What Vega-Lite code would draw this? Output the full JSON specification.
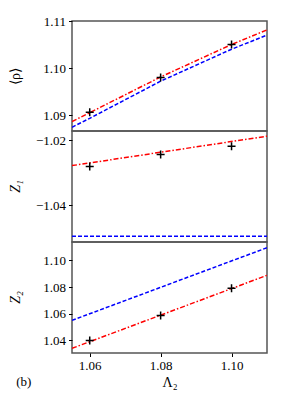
{
  "$schema": "https://vega.github.io/schema/vega-lite/v6.json",
  "padding": {"left": 7, "top": 14, "right": 5, "bottom": 5},
  "spacing": 0,
  "bounds": "flush",
  "background": "white",
  "title": {"text": "(b)", "orient": "bottom", "anchor": "start", "font": "Liberation Serif", "fontSize": 13, "fontWeight": "normal", "color": "black", "offset": -14, "dx": 9},
  "config": {
    "view": {"stroke": "#555555", "strokeWidth": 1.5},
    "axis": {"grid": false, "domain": false, "labelFont": "Liberation Serif", "labelFontSize": 13, "labelColor": "black", "tickColor": "black", "tickSize": 3.5, "tickWidth": 1, "titleFont": "Liberation Serif", "titleFontSize": 14, "titleFontWeight": "normal", "titleColor": "black", "labelPadding": 3, "labelOverlap": false}
  },
  "datasets": {
    "rho_lines": [
      {"L": 1.055, "v": 1.0886, "s": "red"}, {"L": 1.06, "v": 1.0905, "s": "red"}, {"L": 1.08, "v": 1.0981, "s": "red"}, {"L": 1.10, "v": 1.1050, "s": "red"}, {"L": 1.11, "v": 1.1081, "s": "red"},
      {"L": 1.055, "v": 1.0874, "s": "blue"}, {"L": 1.06, "v": 1.0893, "s": "blue"}, {"L": 1.08, "v": 1.0972, "s": "blue"}, {"L": 1.10, "v": 1.1040, "s": "blue"}, {"L": 1.11, "v": 1.1070, "s": "blue"}
    ],
    "rho_pts": [{"L": 1.06, "v": 1.0906}, {"L": 1.08, "v": 1.098}, {"L": 1.10, "v": 1.105}],
    "z1_lines": [
      {"L": 1.055, "v": -1.0278, "s": "red"}, {"L": 1.11, "v": -1.0187, "s": "red"},
      {"L": 1.055, "v": -1.0496, "s": "blue"}, {"L": 1.11, "v": -1.0496, "s": "blue"}
    ],
    "z1_pts": [{"L": 1.06, "v": -1.0281}, {"L": 1.08, "v": -1.0244}, {"L": 1.10, "v": -1.0218}],
    "z2_lines": [
      {"L": 1.055, "v": 1.034, "s": "red"}, {"L": 1.11, "v": 1.0888, "s": "red"},
      {"L": 1.055, "v": 1.055, "s": "blue"}, {"L": 1.11, "v": 1.1095, "s": "blue"}
    ],
    "z2_pts": [{"L": 1.06, "v": 1.0398}, {"L": 1.08, "v": 1.0587}, {"L": 1.10, "v": 1.079}]
  },
  "vconcat": [
    {
      "width": 195, "height": 110,
      "layer": [
        {"data": {"name": "rho_lines"}, "transform": [{"filter": "datum.s === 'blue'"}], "mark": {"type": "line", "color": "#0000ff", "strokeWidth": 1.5, "strokeDash": [4, 2], "clip": true},
         "encoding": {"x": {"field": "L", "type": "quantitative", "scale": {"domain": [1.055, 1.11], "nice": false, "zero": false}, "axis": null},
                      "y": {"field": "v", "type": "quantitative", "scale": {"domain": [1.0866, 1.11], "nice": false, "zero": false},
                            "axis": {"values": [1.09, 1.10, 1.11], "format": ".2f", "title": "⟨ρ⟩", "titleX": -50, "titleY": 55, "titleAngle": -90}}}},
        {"data": {"name": "rho_lines"}, "transform": [{"filter": "datum.s === 'red'"}], "mark": {"type": "line", "color": "#ff0000", "strokeWidth": 1.5, "strokeDash": [5, 2, 1.5, 2], "clip": true},
         "encoding": {"x": {"field": "L", "type": "quantitative"}, "y": {"field": "v", "type": "quantitative"}}},
        {"data": {"name": "rho_pts"}, "mark": {"type": "point", "shape": "M-1,0L1,0M0,-1L0,1", "filled": false, "color": "black", "strokeWidth": 1.5, "size": 64, "opacity": 1},
         "encoding": {"x": {"field": "L", "type": "quantitative"}, "y": {"field": "v", "type": "quantitative"}}}
      ]
    },
    {
      "width": 195, "height": 111,
      "layer": [
        {"data": {"name": "z1_lines"}, "transform": [{"filter": "datum.s === 'blue'"}], "mark": {"type": "line", "color": "#0000ff", "strokeWidth": 1.5, "strokeDash": [4, 2], "clip": true},
         "encoding": {"x": {"field": "L", "type": "quantitative", "scale": {"domain": [1.055, 1.11], "nice": false, "zero": false}, "axis": null},
                      "y": {"field": "v", "type": "quantitative", "scale": {"domain": [-1.0514, -1.0171], "nice": false, "zero": false},
                            "axis": {"values": [-1.04, -1.02], "format": ".2f", "labelExpr": "replace(datum.label, /^[-\u2212]/, '\u2212')", "title": "Z₁", "titleX": -50, "titleY": 55, "titleAngle": -90, "titleFontStyle": "italic"}}}},
        {"data": {"name": "z1_lines"}, "transform": [{"filter": "datum.s === 'red'"}], "mark": {"type": "line", "color": "#ff0000", "strokeWidth": 1.5, "strokeDash": [5, 2, 1.5, 2], "clip": true},
         "encoding": {"x": {"field": "L", "type": "quantitative"}, "y": {"field": "v", "type": "quantitative"}}},
        {"data": {"name": "z1_pts"}, "mark": {"type": "point", "shape": "M-1,0L1,0M0,-1L0,1", "filled": false, "color": "black", "strokeWidth": 1.5, "size": 64, "opacity": 1},
         "encoding": {"x": {"field": "L", "type": "quantitative"}, "y": {"field": "v", "type": "quantitative"}}}
      ]
    },
    {
      "width": 195, "height": 111,
      "layer": [
        {"data": {"name": "z2_lines"}, "transform": [{"filter": "datum.s === 'blue'"}], "mark": {"type": "line", "color": "#0000ff", "strokeWidth": 1.5, "strokeDash": [4, 2], "clip": true},
         "encoding": {"x": {"field": "L", "type": "quantitative", "scale": {"domain": [1.055, 1.11], "nice": false, "zero": false},
                            "axis": {"values": [1.06, 1.08, 1.10], "format": ".2f", "title": "Λ₂", "titlePadding": 3}},
                      "y": {"field": "v", "type": "quantitative", "scale": {"domain": [1.0305, 1.1138], "nice": false, "zero": false},
                            "axis": {"tickCount": 5, "format": ".2f", "labelOverlap": false, "title": "Z₂", "titleX": -50, "titleY": 55, "titleAngle": -90, "titleFontStyle": "italic"}}}},
        {"data": {"name": "z2_lines"}, "transform": [{"filter": "datum.s === 'red'"}], "mark": {"type": "line", "color": "#ff0000", "strokeWidth": 1.5, "strokeDash": [5, 2, 1.5, 2], "clip": true},
         "encoding": {"x": {"field": "L", "type": "quantitative"}, "y": {"field": "v", "type": "quantitative"}}},
        {"data": {"name": "z2_pts"}, "mark": {"type": "point", "shape": "M-1,0L1,0M0,-1L0,1", "filled": false, "color": "black", "strokeWidth": 1.5, "size": 64, "opacity": 1},
         "encoding": {"x": {"field": "L", "type": "quantitative"}, "y": {"field": "v", "type": "quantitative"}}}
      ]
    }
  ]
}
